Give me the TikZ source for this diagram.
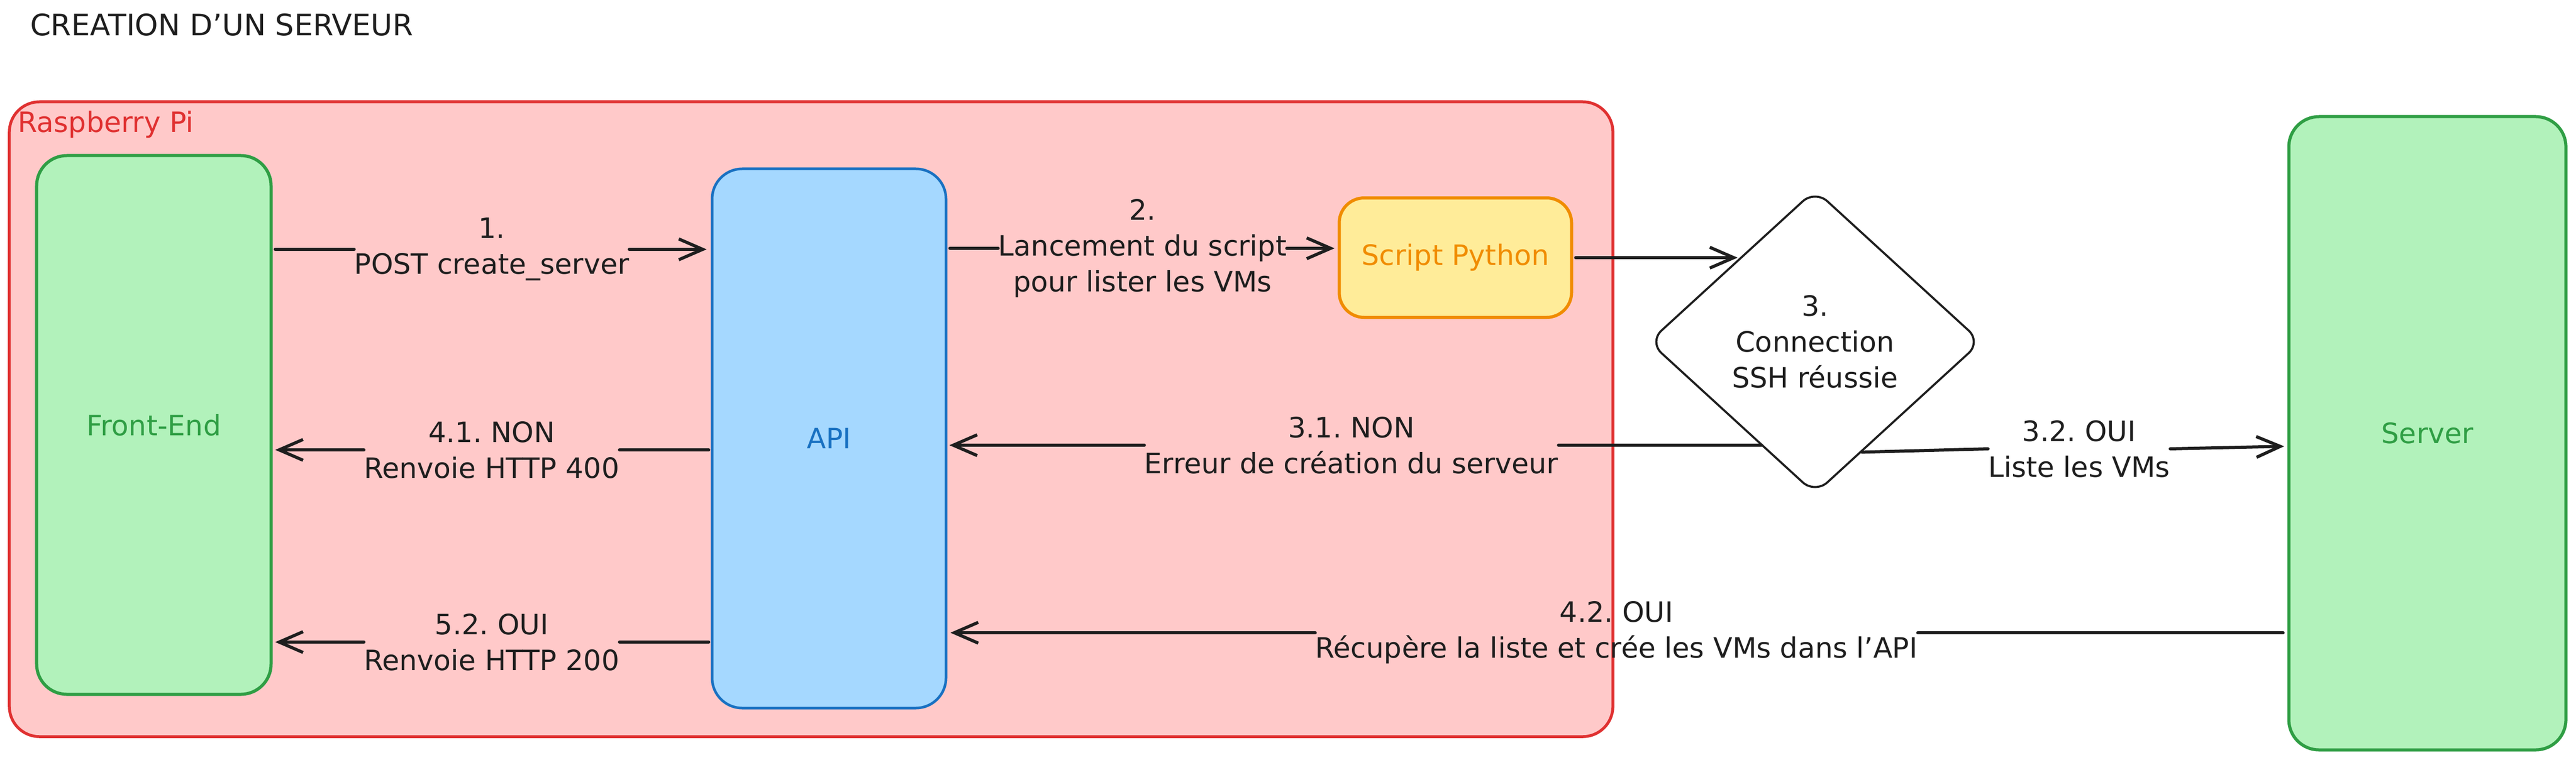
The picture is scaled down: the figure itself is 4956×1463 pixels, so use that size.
\documentclass[tikz,border=0pt]{standalone}
\usepackage{fontspec}
\setmainfont{DejaVu Sans}
\usetikzlibrary{arrows.meta,shapes.geometric,calc}
\definecolor{ink}{HTML}{1E1E1E}
\definecolor{redS}{HTML}{E03131}
\definecolor{redF}{HTML}{FFC9C9}
\definecolor{grnS}{HTML}{2F9E44}
\definecolor{grnF}{HTML}{B2F2BB}
\definecolor{bluS}{HTML}{1971C2}
\definecolor{bluF}{HTML}{A5D8FF}
\definecolor{ylwF}{HTML}{FFEC99}
\definecolor{orgS}{HTML}{F08C00}
\newcommand\lbfont{\fontsize{54bp}{69bp}\selectfont}
\newcommand\ttlfont{\fontsize{57bp}{70bp}\selectfont}
\frenchspacing
\begin{document}
\begin{tikzpicture}[x=1bp,y=-1bp,
  lbl/.style={font=\lbfont, text=ink, align=center, inner sep=0pt},
  box/.style={line width=6bp, rounded corners=58bp, inner sep=0pt, font=\lbfont},
  ln/.style={draw=ink, line width=6bp, line cap=round},
  arr/.style={ln, line join=round, -{Straight Barb[length=46bp,width=40bp]}}]
\fill[white] (0,0) rectangle (4956,1463);
\useasboundingbox (0,0) rectangle (4956,1463);
% title
\node[anchor=base west, font=\ttlfont, text=ink, inner sep=0pt] (title) at (58,69) {CREATION D'UN SERVEUR};
% container
\node[draw=redS, fill=redF, line width=5.5bp, rounded corners=58bp, minimum width=3085bp, minimum height=1222bp, inner sep=0pt] (rpi) at (1560.5,807) {};
\node[anchor=base west, font=\lbfont, text=redS, inner sep=0pt] (rpilbl) at (34,254) {Raspberry Pi};
% boxes
\node[box, draw=grnS, fill=grnF, text=grnS, minimum width=451bp, minimum height=1037bp] (fe) at (296,818) {Front-End};
\node[box, draw=bluS, fill=bluF, text=bluS, line width=5bp, minimum width=450bp, minimum height=1038bp] (api) at (1595,844) {API};
\node[box, draw=orgS, fill=ylwF, text=orgS, rounded corners=48bp, minimum width=447bp, minimum height=230bp] (py) at (2800,496) {Script Python};
\node[diamond, draw=ink, fill=white, line width=4bp, rounded corners=32bp, minimum width=640bp, minimum height=586bp, inner sep=0pt, align=center, font=\lbfont, text=ink] (dia) at (3492,658) {3.\\Connection\\SSH réussie};
\node[box, draw=grnS, fill=grnF, text=grnS, minimum width=533bp, minimum height=1219bp] (srv) at (4670,834) {Server};
% points on the diamond edges
\coordinate (d3) at ($(dia.west)!0.556!(dia.north)$);
\coordinate (d31) at ($(dia.west)!0.68!(dia.south)$);
\coordinate (d32) at ($(dia.east)!0.72!(dia.south)$);
% labels
\node[lbl] (l1) at (946,480) {1.\\POST create\_server};
\node[lbl] (l2) at (2198,478) {2.\\Lancement du script\\pour lister les VMs};
\node[lbl] (l31) at (2600,857) {3.1. NON\\Erreur de création du serveur};
\node[lbl] (l32) at (4000,864) {3.2. OUI\\Liste les VMs};
\node[lbl] (l41) at (946,866) {4.1. NON\\Renvoie HTTP 400};
\node[lbl] (l52) at (946,1236) {5.2. OUI\\Renvoie HTTP 200};
\node[lbl] (l42) at (3110,1218) {4.2. OUI\\Récupère la liste et crée les VMs dans l'API};
% connectors
\draw[ln, shorten <=5bp] (fe.east |- l1) -- (l1.west);
\draw[arr, shorten >=8bp] (l1.east) -- (api.west |- l1);
\draw[ln, shorten <=5bp] (api.east |- l2) -- (l2.west);
\draw[arr, shorten >=6bp] (l2.east) -- (py.west |- l2);
\draw[arr, shorten <=5bp, shorten >=6bp] (py.east) -- (py.east -| d3);
\draw[ln] (d31 |- l31) -- (l31.east);
\draw[arr, shorten >=4bp] (l31.west) -- (api.east |- l31);
\draw[ln] (d32) -- (l32.west);
\draw[arr, shorten >=6bp] (l32.east) -- ($(srv.west)+(0,25)$);
\draw[ln, shorten <=4bp] (api.west |- l41) -- (l41.east);
\draw[arr, shorten >=5bp] (l41.west) -- (fe.east |- l41);
\draw[ln, shorten <=4bp] (api.west |- l52) -- (l52.east);
\draw[arr, shorten >=5bp] (l52.west) -- (fe.east |- l52);
\draw[ln, shorten <=8bp] (srv.west |- l42) -- (l42.east);
\draw[arr, shorten >=6bp] (l42.west) -- (api.east |- l42);
\end{tikzpicture}
\end{document}
